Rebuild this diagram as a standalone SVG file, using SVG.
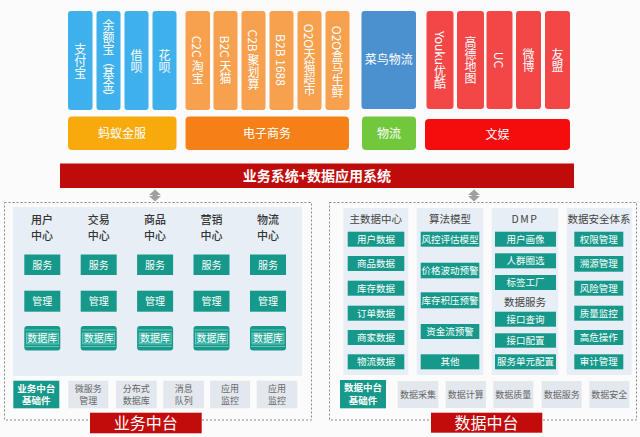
<svg xmlns="http://www.w3.org/2000/svg" width="640" height="437" viewBox="0 0 640 437">
<style>
text{font-family:"Noto Sans CJK SC","Liberation Sans",sans-serif;}
.v{writing-mode:vertical-rl;text-anchor:middle;fill:#fff;font-size:12px;dominant-baseline:central;}
.blue{fill:#3eb0ec;}
.orng{fill:#f7a04e;}
.red{fill:#f34646;}
.bt{fill:#fff;font-size:12px;text-anchor:middle;}
.hd{fill:#333;font-size:11px;text-anchor:middle;font-weight:500;}
.hd2{fill:#444;font-size:10.5px;text-anchor:middle;}
.tl{fill:#16998a;}
.wt{fill:#fff;font-size:10px;text-anchor:middle;}
.ws{fill:#fff;font-size:9.5px;text-anchor:middle;}
.bs{fill:#fff;font-size:9.5px;font-weight:bold;text-anchor:middle;}
.gb{fill:#e3e8ef;}
.gt{fill:#666;font-size:9px;text-anchor:middle;}
.pan{fill:#e8eef6;}
.dash{fill:none;stroke:#8a8a8a;stroke-width:1;stroke-dasharray:2,2;}
.lab{fill:#c20b0b;}
.labt{fill:#fff;font-size:16px;text-anchor:middle;}
.arr{fill:#a0a0a0;}
</style>
<defs>
<g id="db">
<rect x="0" y="0" width="36" height="24.5" rx="3" fill="#16998a"/>
<line x1="1" y1="4" x2="35" y2="4" stroke="#7fd0c4" stroke-width="0.8"/>
<line x1="1" y1="20.5" x2="35" y2="20.5" stroke="#7fd0c4" stroke-width="0.8"/>
<rect x="2" y="7" width="32" height="11" fill="#2aaa9a" stroke="#9fdcd2" stroke-width="0.6"/>
</g>
</defs>
<rect x="0" y="0" width="640" height="437" fill="#fbfbfb"/>

<!-- top columns -->
<g id="ant-cols">
<rect class="blue" x="68" y="11" width="24.5" height="99" rx="3"/>
<text class="v" x="80.3" y="61">支付宝</text>
<rect class="blue" x="96.5" y="11" width="24" height="99" rx="3"/>
<text class="v" x="108.5" y="61">余额宝（基金）</text>
<rect class="blue" x="124.5" y="11" width="24" height="99" rx="3"/>
<text class="v" x="136.5" y="61">借呗</text>
<rect class="blue" x="152.5" y="11" width="24" height="99" rx="3"/>
<text class="v" x="164.5" y="61">花呗</text>
</g>
<g id="ecom-cols">
<rect class="orng" x="185.5" y="11" width="24.5" height="99" rx="3"/>
<text class="v" x="197.8" y="60">C2C 淘宝</text>
<rect class="orng" x="213.5" y="11" width="24" height="99" rx="3"/>
<text class="v" x="225.5" y="60">B2C 天猫</text>
<rect class="orng" x="241.5" y="11" width="24" height="99" rx="3"/>
<text class="v" x="253.5" y="60">C2B 聚划算</text>
<rect class="orng" x="269.5" y="11" width="24" height="99" rx="3"/>
<text class="v" x="281.5" y="60">B2B 1688</text>
<rect class="orng" x="297.5" y="11" width="24" height="99" rx="3"/>
<text class="v" x="309.5" y="60">O2O天猫超市</text>
<rect class="orng" x="325.5" y="11" width="24" height="99" rx="3"/>
<text class="v" x="337.5" y="62">O2O盒马生鲜</text>
</g>
<g id="cainiao">
<rect x="361.5" y="11" width="54.5" height="98" rx="3" fill="#4b90cf"/>
<text x="388.7" y="64" fill="#fff" font-size="12" text-anchor="middle">菜鸟物流</text>
</g>
<g id="ent-cols">
<rect class="red" x="426.5" y="11" width="27" height="98" rx="3"/>
<text class="v" x="440" y="60">Youku优酷</text>
<rect class="red" x="457" y="11" width="27" height="98" rx="3"/>
<text class="v" x="470.5" y="60">高德地图</text>
<rect class="red" x="486.5" y="11" width="26" height="98" rx="3"/>
<text class="v" x="499.5" y="60">UC</text>
<rect class="red" x="516" y="11" width="25" height="98" rx="3"/>
<text class="v" x="528.5" y="60">微博</text>
<rect class="red" x="545" y="11" width="25" height="98" rx="3"/>
<text class="v" x="557.5" y="60">友盟</text>
</g>

<!-- category bars -->
<g id="bar-ant"><rect x="68" y="116.5" width="108.5" height="33.5" rx="4" fill="#f8a90c"/><text class="bt" x="122" y="137.5">蚂蚁金服</text></g>
<g id="bar-ecom"><rect x="185.5" y="116.5" width="163.5" height="33.5" rx="4" fill="#f58018"/><text class="bt" x="267" y="137.5">电子商务</text></g>
<g id="bar-logi"><rect x="362" y="116.5" width="54" height="33.5" rx="4" fill="#72c83c"/><text class="bt" x="389" y="137.5">物流</text></g>
<g id="bar-ent"><rect x="425" y="119" width="145" height="31" rx="4" fill="#f50c0c"/><text class="bt" x="497.5" y="139">文娱</text></g>

<g id="main-bar">
<rect x="60" y="163.5" width="514" height="24.5" fill="#c00b0b"/>
<text x="317" y="181" fill="#fff" font-size="14" font-weight="bold" text-anchor="middle">业务系统+数据应用系统</text>
</g>

<!-- connectors -->
<g id="connectors">
<polygon class="arr" points="155,189.5 161,195 157.5,195 157.5,196 161,196 155,201.5 149,196 152.5,196 152.5,195 149,195"/>
<polygon class="arr" points="474,189.5 480,195 476.5,195 476.5,196 480,196 474,201.5 468,196 471.5,196 471.5,195 468,195"/>
</g>

<!-- left panel: 业务中台 -->
<g id="biz-platform">
<rect class="dash" x="4.5" y="202.5" width="307" height="217.5"/>
<rect class="pan" x="13" y="207" width="289" height="169"/>
</g>
<g id="center-user"><text class="hd" x="42" y="224">用户<tspan x="42" dy="16">中心</tspan></text>
<rect class="tl" x="24.3" y="254.5" width="36" height="20.5"/><text class="wt" x="42.3" y="268.5">服务</text>
<rect class="tl" x="24.3" y="290.7" width="36" height="21"/><text class="wt" x="42.3" y="305">管理</text>
<use href="#db" x="24.3" y="326"/><text class="wt" x="42.3" y="341.5">数据库</text></g>
<g id="center-trade"><text class="hd" x="98.7" y="224">交易<tspan x="98.7" dy="16">中心</tspan></text>
<rect class="tl" x="80.7" y="254.5" width="36" height="20.5"/><text class="wt" x="98.7" y="268.5">服务</text>
<rect class="tl" x="80.7" y="290.7" width="36" height="21"/><text class="wt" x="98.7" y="305">管理</text>
<use href="#db" x="80.7" y="326"/><text class="wt" x="98.7" y="341.5">数据库</text></g>
<g id="center-goods"><text class="hd" x="155" y="224">商品<tspan x="155" dy="16">中心</tspan></text>
<rect class="tl" x="137.1" y="254.5" width="36" height="20.5"/><text class="wt" x="155.1" y="268.5">服务</text>
<rect class="tl" x="137.1" y="290.7" width="36" height="21"/><text class="wt" x="155.1" y="305">管理</text>
<use href="#db" x="137.1" y="326"/><text class="wt" x="155.1" y="341.5">数据库</text></g>
<g id="center-mkt"><text class="hd" x="211.5" y="224">营销<tspan x="211.5" dy="16">中心</tspan></text>
<rect class="tl" x="193.5" y="254.5" width="36" height="20.5"/><text class="wt" x="211.5" y="268.5">服务</text>
<rect class="tl" x="193.5" y="290.7" width="36" height="21"/><text class="wt" x="211.5" y="305">管理</text>
<use href="#db" x="193.5" y="326"/><text class="wt" x="211.5" y="341.5">数据库</text></g>
<g id="center-logi"><text class="hd" x="268" y="224">物流<tspan x="268" dy="16">中心</tspan></text>
<rect class="tl" x="250" y="254.5" width="36" height="20.5"/><text class="wt" x="268" y="268.5">服务</text>
<rect class="tl" x="250" y="290.7" width="36" height="21"/><text class="wt" x="268" y="305">管理</text>
<use href="#db" x="250" y="326"/><text class="wt" x="268" y="341.5">数据库</text></g>
<g id="biz-base">
<rect class="tl" x="13.3" y="380.7" width="46" height="27.6"/>
<text class="bs" x="36.3" y="391.5">业务中台<tspan x="36.3" dy="12.5">基础件</tspan></text>
<rect class="gb" x="68.3" y="380.7" width="40" height="27.6"/><text class="gt" x="88.3" y="391.5">微服务<tspan x="88.3" dy="12.5">管理</tspan></text>
<rect class="gb" x="116" y="380.7" width="40.7" height="27.6"/><text class="gt" x="136.3" y="391.5">分布式<tspan x="136.3" dy="12.5">数据库</tspan></text>
<rect class="gb" x="163.3" y="380.7" width="40.7" height="27.6"/><text class="gt" x="183.7" y="391.5">消息<tspan x="183.7" dy="12.5">队列</tspan></text>
<rect class="gb" x="210" y="380.7" width="40" height="27.6"/><text class="gt" x="230" y="391.5">应用<tspan x="230" dy="12.5">监控</tspan></text>
<rect class="gb" x="256.7" y="380.7" width="40.6" height="27.6"/><text class="gt" x="277" y="391.5">应用<tspan x="277" dy="12.5">监控</tspan></text>
</g>
<g id="biz-label"><rect class="lab" x="90" y="412.7" width="111.7" height="20.6"/><text class="labt" x="145.8" y="428.5">业务中台</text></g>

<!-- right panel: 数据中台 -->
<g id="data-platform">
<rect class="dash" x="329.5" y="202.5" width="307" height="217.5"/>
<rect class="pan" x="343.3" y="208" width="65" height="167"/>
<rect class="pan" x="416.7" y="208" width="66.6" height="167"/>
<rect class="pan" x="491.7" y="208" width="66.6" height="167"/>
<rect class="pan" x="566.7" y="208" width="65" height="167"/>
</g>
<g id="master-data">
<text class="hd2" x="375.8" y="223">主数据中心</text>
<rect class="tl" x="347.7" y="231.7" width="56.6" height="15"/><text class="ws" x="376" y="242.5">用户数据</text>
<rect class="tl" x="347.7" y="256" width="56.6" height="15"/><text class="ws" x="376" y="266.8">商品数据</text>
<rect class="tl" x="347.7" y="280.7" width="56.6" height="15"/><text class="ws" x="376" y="291.5">库存数据</text>
<rect class="tl" x="347.7" y="305.7" width="56.6" height="15"/><text class="ws" x="376" y="316.5">订单数据</text>
<rect class="tl" x="347.7" y="330" width="56.6" height="15"/><text class="ws" x="376" y="340.8">商家数据</text>
<rect class="tl" x="347.7" y="354.3" width="56.6" height="15"/><text class="ws" x="376" y="365.1">物流数据</text>
</g>
<g id="algo-model">
<text class="hd2" x="450" y="223">算法模型</text>
<rect class="tl" x="420.7" y="231.7" width="58.6" height="15"/><text class="ws" x="450" y="242.5">风控评估模型</text>
<rect class="tl" x="420.7" y="262.7" width="58.6" height="15.6"/><text class="ws" x="450" y="273.8">价格波动预警</text>
<rect class="tl" x="420.7" y="292.3" width="58.6" height="16"/><text class="ws" x="450" y="303.6">库存积压预警</text>
<rect class="tl" x="420.7" y="324" width="58.6" height="15"/><text class="ws" x="450" y="334.8">资金流预警</text>
<rect class="tl" x="420.7" y="354.3" width="58.6" height="15"/><text class="ws" x="450" y="365.1">其他</text>
</g>
<g id="dmp">
<text class="hd2" x="525" y="223" letter-spacing="1.5">DMP</text>
<rect class="tl" x="495" y="231.7" width="61" height="15"/><text class="ws" x="525.5" y="242.5">用户画像</text>
<rect class="tl" x="495" y="253.3" width="61" height="15"/><text class="ws" x="525.5" y="264.1">人群圈选</text>
<rect class="tl" x="495" y="275" width="61" height="15"/><text class="ws" x="525.5" y="285.8">标签工厂</text>
<text class="hd2" x="525" y="306">数据服务</text>
<rect class="tl" x="495" y="311.7" width="61" height="15"/><text class="ws" x="525.5" y="322.5">接口查询</text>
<rect class="tl" x="495" y="333.3" width="61" height="14.4"/><text class="ws" x="525.5" y="343.8">接口配置</text>
<rect class="tl" x="495" y="354.3" width="61" height="15"/><text class="ws" x="525.5" y="365.1">服务单元配置</text>
</g>
<g id="data-security">
<text class="hd2" x="599" y="223">数据安全体系</text>
<rect class="tl" x="574.3" y="231.7" width="49" height="15"/><text class="ws" x="598.8" y="242.5">权限管理</text>
<rect class="tl" x="574.3" y="256" width="49" height="15.7"/><text class="ws" x="598.8" y="267.1">溯源管理</text>
<rect class="tl" x="574.3" y="280.7" width="49" height="15"/><text class="ws" x="598.8" y="291.5">风险管理</text>
<rect class="tl" x="574.3" y="305.7" width="49" height="15"/><text class="ws" x="598.8" y="316.5">质量监控</text>
<rect class="tl" x="574.3" y="330" width="49" height="15"/><text class="ws" x="598.8" y="340.8">高危操作</text>
<rect class="tl" x="574.3" y="354.3" width="49" height="15"/><text class="ws" x="598.8" y="365.1">审计管理</text>
</g>
<g id="data-base">
<rect class="tl" x="340" y="380" width="46" height="28.3"/>
<text class="bs" x="363" y="391">数据中台<tspan x="363" dy="12.5">基础件</tspan></text>
<rect class="gb" x="397.7" y="381" width="40.6" height="27"/><text class="gt" x="418" y="398">数据采集</text>
<rect class="gb" x="445.7" y="381" width="40.3" height="27"/><text class="gt" x="465.8" y="398">数据计算</text>
<rect class="gb" x="493.3" y="381" width="40" height="27"/><text class="gt" x="513.3" y="398">数据质量</text>
<rect class="gb" x="541.7" y="381" width="40" height="27"/><text class="gt" x="561.7" y="398">数据服务</text>
<rect class="gb" x="589.3" y="381" width="40" height="27"/><text class="gt" x="609.3" y="398">数据安全</text>
</g>
<g id="data-label"><rect class="lab" x="431" y="412.7" width="111.3" height="20"/><text class="labt" x="486.6" y="428.5">数据中台</text></g>
</svg>
